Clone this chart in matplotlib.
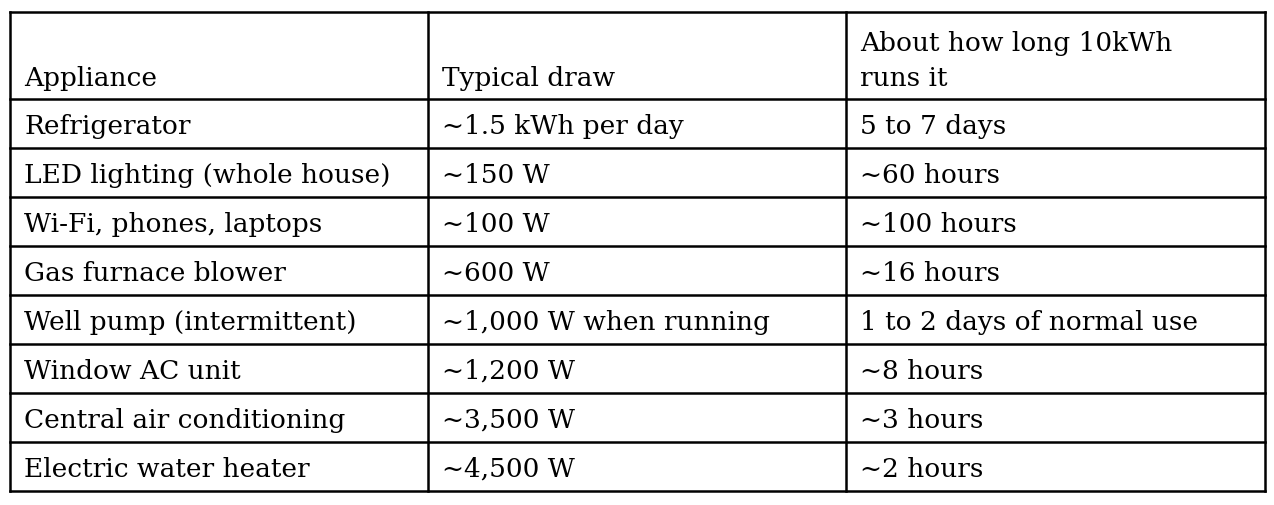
import matplotlib
matplotlib.use("Agg")
import matplotlib.pyplot as plt

headers = ["Appliance", "Typical draw", "About how long 10kWh\nruns it"]
appliances = ["Refrigerator", "LED lighting (whole house)", "Wi-Fi, phones, laptops",
              "Gas furnace blower", "Well pump (intermittent)", "Window AC unit",
              "Central air conditioning", "Electric water heater"]
draws = ["~1.5 kWh per day", "~150 W", "~100 W", "~600 W", "~1,000 W when running",
         "~1,200 W", "~3,500 W", "~4,500 W"]
durations = ["5 to 7 days", "~60 hours", "~100 hours", "~16 hours",
             "1 to 2 days of normal use", "~8 hours", "~3 hours", "~2 hours"]

W, H = 1274, 506
fig = plt.figure(figsize=(W / 100, H / 100), dpi=100)
ax = fig.add_axes([0, 0, 1, 1])
ax.set_xlim(0, W)
ax.set_ylim(H, 0)
ax.axis("off")

col_x = [10, 428, 846, 1265]
top, header_bottom, row_h = 13, 100, 49
n = len(appliances)
row_y = [header_bottom + i * row_h for i in range(n + 1)]
bottom = row_y[-1]

lw = 1.8
for y in [top] + row_y:
    ax.plot([col_x[0], col_x[-1]], [y, y], color="black", lw=lw, solid_capstyle="projecting")
for x in col_x:
    ax.plot([x, x], [top, bottom], color="black", lw=lw, solid_capstyle="projecting")

font = dict(family="DejaVu Serif", fontsize=19, color="black")
pad = 14
for j, h in enumerate(headers):
    ax.text(col_x[j] + pad, header_bottom - 14, h, va="baseline", ha="left",
            linespacing=1.5, **font)

for i in range(n):
    yb = row_y[i + 1] - 15
    for j, val in enumerate([appliances[i], draws[i], durations[i]]):
        ax.text(col_x[j] + pad, yb, val, va="baseline", ha="left", **font)

fig.savefig("out.png", dpi=100, facecolor="white")
